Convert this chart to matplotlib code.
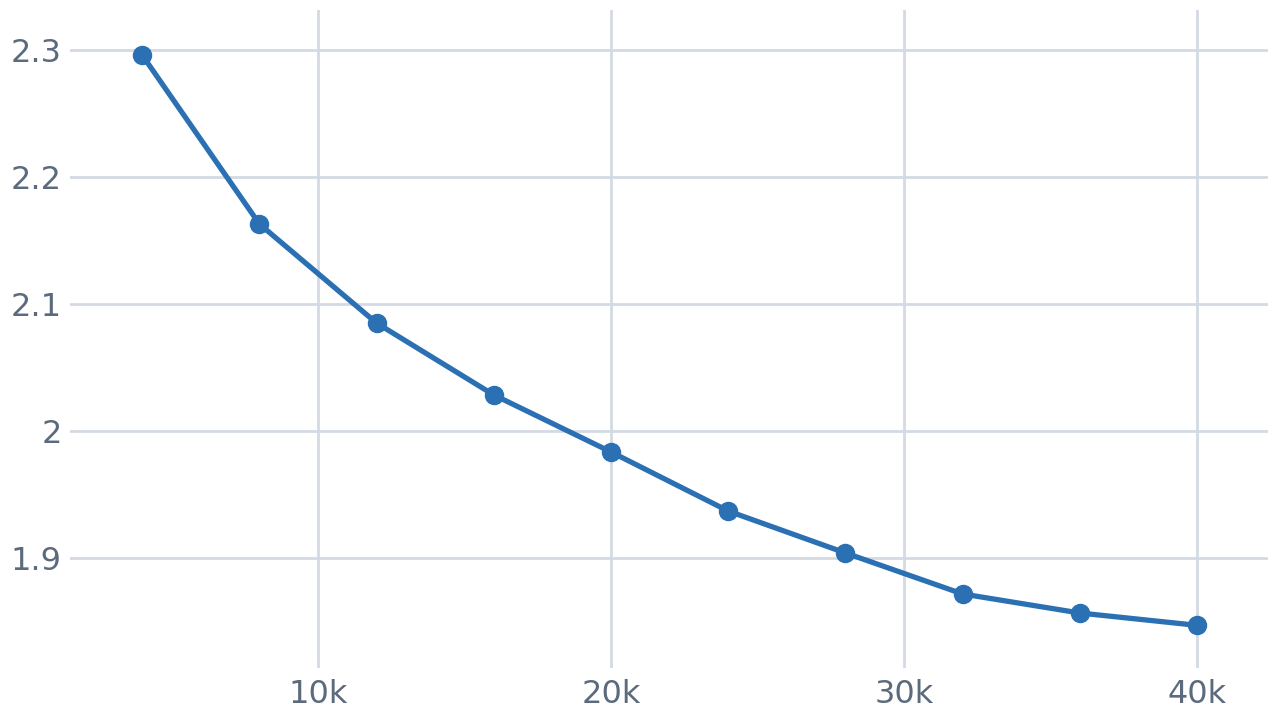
import matplotlib
matplotlib.use("Agg")
import matplotlib.pyplot as plt
from matplotlib.ticker import FuncFormatter

steps = [4000, 8000, 12000, 16000, 20000, 24000, 28000, 32000, 36000, 40000]
loss = [2.296, 2.163, 2.085, 2.0284, 1.9835, 1.937, 1.904, 1.8717, 1.8567, 1.847]

xticks = [10000, 20000, 30000, 40000]
yticks = [1.9, 2.0, 2.1, 2.2, 2.3]

W, H = 1279, 720
fig = plt.figure(figsize=(W / 100, H / 100), dpi=100)
ax = fig.add_axes([70 / W, (H - 668) / H, (1268 - 70) / W, (668 - 10) / H])

ax.plot(steps, loss, color="#2a70b3", linewidth=3.8, marker="o", markersize=13,
        zorder=3, solid_capstyle="round")

ax.set_xlim(1536, 42423)
ax.set_ylim(1.8134, 2.3315)
ax.set_xticks(xticks)
ax.set_yticks(yticks)
ax.xaxis.set_major_formatter(FuncFormatter(lambda v, p: f"{int(v / 1000)}k"))
ax.yaxis.set_major_formatter(FuncFormatter(lambda v, p: f"{v:g}"))

ax.grid(True, color="#d3dae3", linewidth=2)
for s in ax.spines.values():
    s.set_visible(False)
ax.tick_params(length=0, labelsize=23, colors="#5b6b7d", pad=8)
ax.tick_params(axis="y", pad=6)

fig.savefig("out.png", dpi=100)
